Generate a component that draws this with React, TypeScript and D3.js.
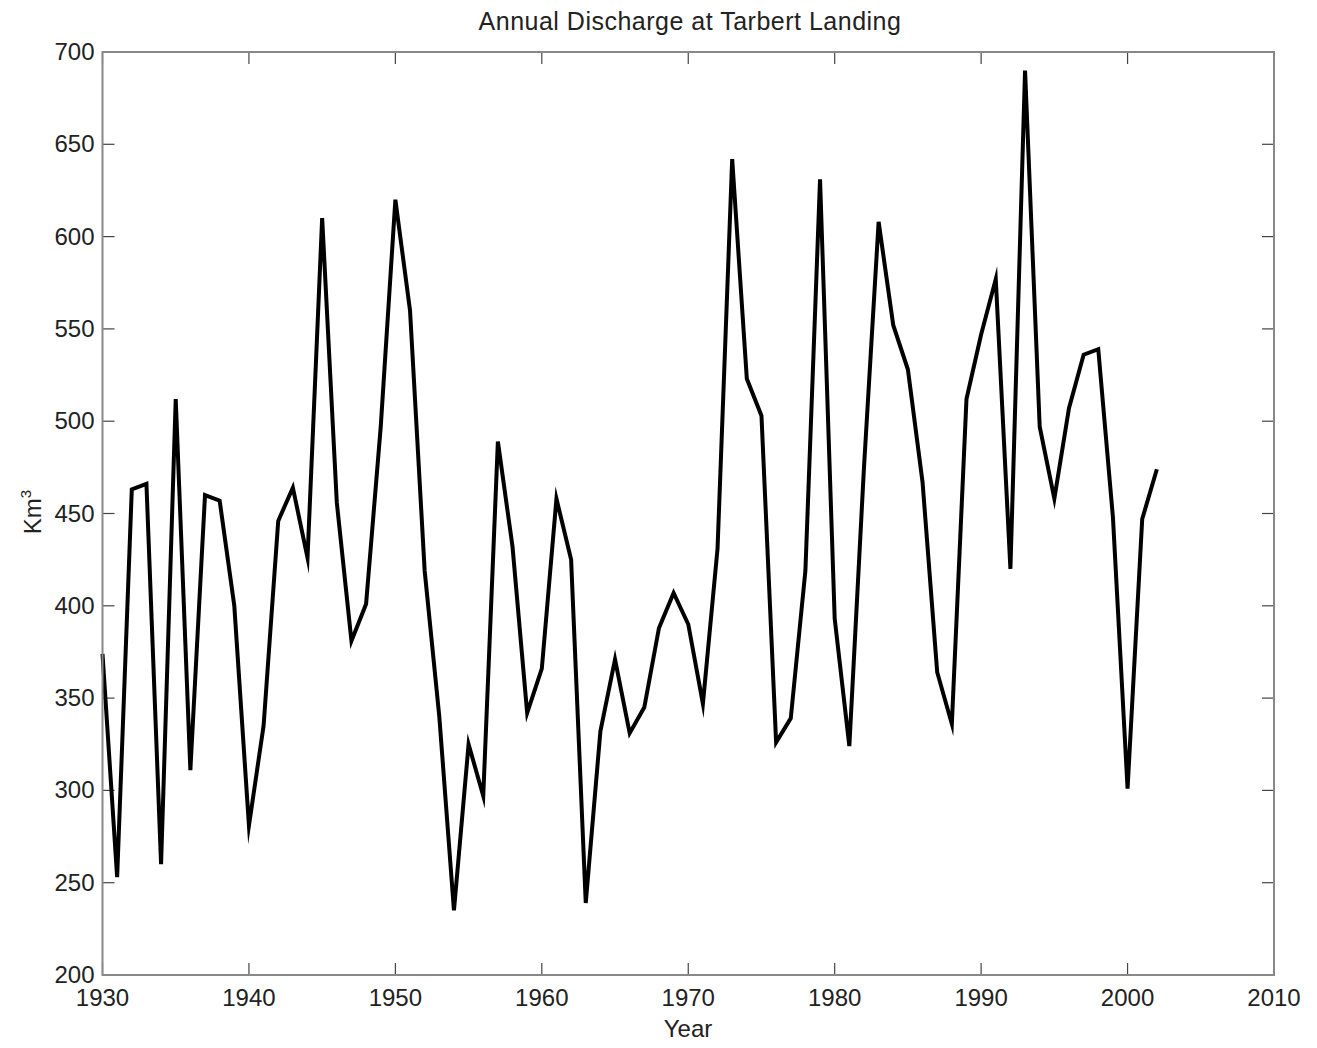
import React from "react";
import * as d3 from "d3";

// Annual discharge (km³) at Tarbert Landing, one value per year from 1930
const firstYear = 1930;
const discharge: number[] = [
  374, 253, 463, 466, 260, 512, 311, 460, 457, 400,
  281, 335, 446, 464, 426, 610, 456, 381, 401, 497,
  620, 560, 419, 340, 235, 325, 297, 489, 432, 342,
  366, 458, 425, 239, 332, 371, 331, 345, 388, 407,
  390, 347, 431, 642, 523, 503, 326, 339, 419, 631,
  393, 324, 475, 608, 552, 528, 467, 364, 336, 512,
  547, 577, 420, 690, 497, 458, 507, 536, 539, 448,
  301, 447, 474,
];
const years: number[] = discharge.map((_, i) => firstYear + i);

const xTickValues: number[] = [1930, 1940, 1950, 1960, 1970, 1980, 1990, 2000, 2010];
const yTickValues: number[] = [200, 250, 300, 350, 400, 450, 500, 550, 600, 650, 700];

const titleText = "Annual Discharge at Tarbert Landing";
const xLabelText = "Year";

const W = 1317;
const H = 1048;
const margin = { left: 102.5, right: W - 1274, top: 52, bottom: H - 975 };
const FONT = "'Liberation Sans', Arial, Helvetica, sans-serif";
const TICK = 12;

export default function App() {
  const x = d3.scaleLinear().domain([1930, 2010]).range([margin.left, W - margin.right]);
  const y = d3.scaleLinear().domain([200, 700]).range([H - margin.bottom, margin.top]);

  const line = d3
    .line<number>()
    .x((_, i) => x(years[i]))
    .y((d) => y(d));

  const [x0, x1] = x.range();
  const [y0, y1] = y.range();

  return (
    <svg
      width={W}
      height={H}
      style={{ position: "absolute", left: 0, top: 0, background: "#fff" }}
      fontFamily={FONT}
    >
      <rect x={0} y={0} width={W} height={H} fill="#fff" />

      {/* inward ticks on all four sides */}
      {xTickValues.map((t) => (
        <g key={"xt" + t} stroke="#444" strokeWidth={1.2}>
          <line x1={x(t)} x2={x(t)} y1={y0} y2={y0 - TICK} />
          <line x1={x(t)} x2={x(t)} y1={y1} y2={y1 + TICK} />
        </g>
      ))}
      {yTickValues.map((t) => (
        <g key={"yt" + t} stroke="#444" strokeWidth={1.2}>
          <line x1={x0} x2={x0 + TICK} y1={y(t)} y2={y(t)} />
          <line x1={x1} x2={x1 - TICK} y1={y(t)} y2={y(t)} />
        </g>
      ))}

      {/* data line */}
      <path
        d={line(discharge) || ""}
        fill="none"
        stroke="#000"
        strokeWidth={4}
        strokeLinejoin="miter"
        strokeMiterlimit={10}
      />

      {/* axes box */}
      <rect
        x={x0}
        y={y1}
        width={x1 - x0}
        height={y0 - y1}
        fill="none"
        stroke="#888"
        strokeWidth={2}
      />

      {/* tick labels */}
      {xTickValues.map((t) => (
        <text
          key={"xl" + t}
          x={x(t)}
          y={y0 + 31}
          textAnchor="middle"
          fontSize={24}
          fill="#222"
        >
          {t}
        </text>
      ))}
      {yTickValues.map((t) => (
        <text
          key={"yl" + t}
          x={x0 - 8}
          y={y(t) + 8}
          textAnchor="end"
          fontSize={24}
          fill="#222"
        >
          {t}
        </text>
      ))}

      {/* title and axis labels */}
      <text
        x={690}
        y={30}
        textAnchor="middle"
        fontSize={25}
        letterSpacing={0.5}
        fill="#222"
      >
        {titleText}
      </text>
      <text x={688} y={1037} textAnchor="middle" fontSize={24} fill="#222">
        {xLabelText}
      </text>
      <text
        transform={`translate(41, 512) rotate(-90)`}
        textAnchor="middle"
        fontSize={24}
        fill="#222"
      >
        Km<tspan dy={-10} fontSize={15}>3</tspan>
      </text>
    </svg>
  );
}
